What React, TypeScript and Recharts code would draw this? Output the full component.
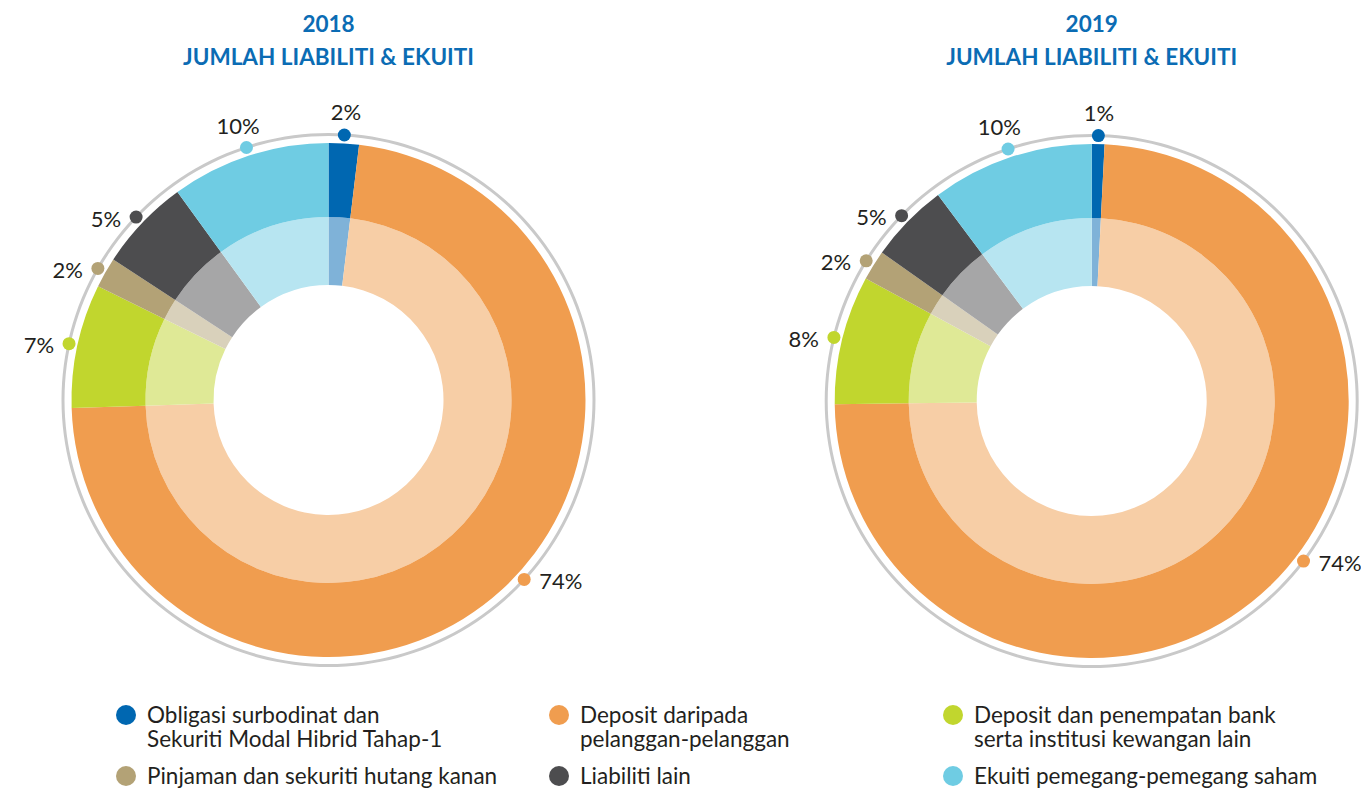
import { Pie, PieChart } from 'recharts';

// Urutan ikut arah jam dari atas
const CATEGORIES = [
  'Obligasi surbodinat dan\nSekuriti Modal Hibrid Tahap-1',
  'Deposit daripada\npelanggan-pelanggan',
  'Deposit dan penempatan bank\nserta institusi kewangan lain',
  'Pinjaman dan sekuriti hutang kanan',
  'Liabiliti lain',
  'Ekuiti pemegang-pemegang saham',
];
const VALUES_2018 = [1.9, 72.6, 7.8, 1.9, 5.8, 10.0];
const VALUES_2019 = [0.8, 74.0, 8.1, 1.9, 5.0, 10.2];
const LABELS_2018 = ['2%', '74%', '7%', '2%', '5%', '10%'];
const LABELS_2019 = ['1%', '74%', '8%', '2%', '5%', '10%'];
const YEARS = ['2018', '2019'];

// label pin shift along the ring (deg), the big slice's pin sits off-centre
const NUDGE_2018 = [0, 5, 0, 0, 0, 0];
const NUDGE_2019 = [0, 9, 0, 0, 0, 0];

const COLORS = ['#0067b1', '#f09d4f', '#c1d62e', '#b3a276', '#4d4d4f', '#6fcce3'];
const TINTS = ['#7fb2d8', '#f7cea6', '#dfe996', '#d9d1bb', '#a6a6a7', '#b7e5f1'];

const LEGEND_COLS = [116, 549, 943];
const LEGEND_ROWS = [703, 764];

const TITLE_BLUE = '#0b6cb4';
const INK = '#231f20';
const FONT = 'Lato, "Noto Sans", sans-serif';
const RAD = Math.PI / 180;

const R_IN = 115;
const R_MID = 183;
const R_OUT = 257;
const R_RING = 265.5;

function makeLabel(texts: string[], nudge: number[]) {
  return (props: any) => {
    const { cx, cy, midAngle, index } = props;
    const a = -(midAngle + nudge[index]) * RAD;
    const cos = Math.cos(a);
    const sin = Math.sin(a);
    const px = cx + R_RING * cos;
    const py = cy + R_RING * sin;
    const anchor = cos > 0.4 ? 'start' : cos < -0.4 ? 'end' : 'middle';
    let tx = px;
    let ty = py;
    if (anchor === 'middle') {
      tx = cx + 293 * cos;
      ty = cy + 293 * sin + 4;
    } else {
      tx = px + (anchor === 'start' ? 15 : -15);
      ty = py + 1;
    }
    return (
      <g key={`lbl-${index}`}>
        <circle cx={px} cy={py} r={6.5} fill={COLORS[index]} />
        <text
          x={tx}
          y={ty}
          textAnchor={anchor}
          dominantBaseline="central"
          fill={INK}
          fontSize={22}
          fontFamily={FONT}
        >
          {texts[index]}
        </text>
      </g>
    );
  };
}

export default function App() {
  const sets = [
    { cx: 328.5, cy: 400, values: VALUES_2018, labels: LABELS_2018, nudge: NUDGE_2018 },
    { cx: 1091.7, cy: 401, values: VALUES_2019, labels: LABELS_2019, nudge: NUDGE_2019 },
  ];
  return (
    <div style={{ position: 'absolute', left: 0, top: 0, width: 1361, height: 789, background: '#fff', fontFamily: FONT }}>
      {YEARS.map((y, i) => (
        <div
          key={y}
          style={{
            position: 'absolute',
            left: sets[i].cx - 250,
            width: 500,
            top: 7,
            textAlign: 'center',
            color: TITLE_BLUE,
            fontWeight: 700,
            fontSize: 22.5,
            lineHeight: '33px',
          }}
        >
          {y}
          <br />
          JUMLAH LIABILITI &amp; EKUITI
        </div>
      ))}
      <div style={{ position: 'absolute', left: 0, top: 0 }}>
        <PieChart width={1361} height={690} margin={{ top: 0, right: 0, bottom: 0, left: 0 }}>
          {sets.map((s, k) => [
            <Pie
              key={`ring-${k}`}
              data={[{ name: 'ring', value: 1, fill: '#c9c9c9' }]}
              dataKey="value"
              cx={s.cx}
              cy={s.cy}
              innerRadius={R_RING - 1.5}
              outerRadius={R_RING + 1.5}
              startAngle={90}
              endAngle={-270}
              stroke="none"
              isAnimationActive={false}
            />,
            <Pie
              key={`in-${k}`}
              data={s.values.map((v, i) => ({ name: CATEGORIES[i], value: v, fill: TINTS[i] }))}
              dataKey="value"
              cx={s.cx}
              cy={s.cy}
              innerRadius={R_IN}
              outerRadius={R_MID}
              startAngle={90}
              endAngle={-270}
              stroke="none"
              isAnimationActive={false}
            />,
            <Pie
              key={`out-${k}`}
              data={s.values.map((v, i) => ({ name: CATEGORIES[i], value: v, fill: COLORS[i] }))}
              dataKey="value"
              cx={s.cx}
              cy={s.cy}
              innerRadius={R_MID}
              outerRadius={R_OUT}
              startAngle={90}
              endAngle={-270}
              stroke="none"
              label={makeLabel(s.labels, s.nudge)}
              labelLine={false}
              isAnimationActive={false}
            />,
          ])}
        </PieChart>
      </div>
      {CATEGORIES.map((name, n) => (
        <div
          key={n}
          style={{
            position: 'absolute',
            left: LEGEND_COLS[n % 3],
            top: LEGEND_ROWS[Math.floor(n / 3)],
            display: 'flex',
            alignItems: 'flex-start',
            color: INK,
            fontSize: 22.5,
            lineHeight: '24px',
          }}
        >
          <span
            style={{
              width: 20,
              height: 20,
              borderRadius: '50%',
              background: COLORS[n],
              marginTop: 2,
              marginRight: 11,
              flex: 'none',
            }}
          />
          <span style={{ whiteSpace: 'pre' }}>{name}</span>
        </div>
      ))}
    </div>
  );
}
